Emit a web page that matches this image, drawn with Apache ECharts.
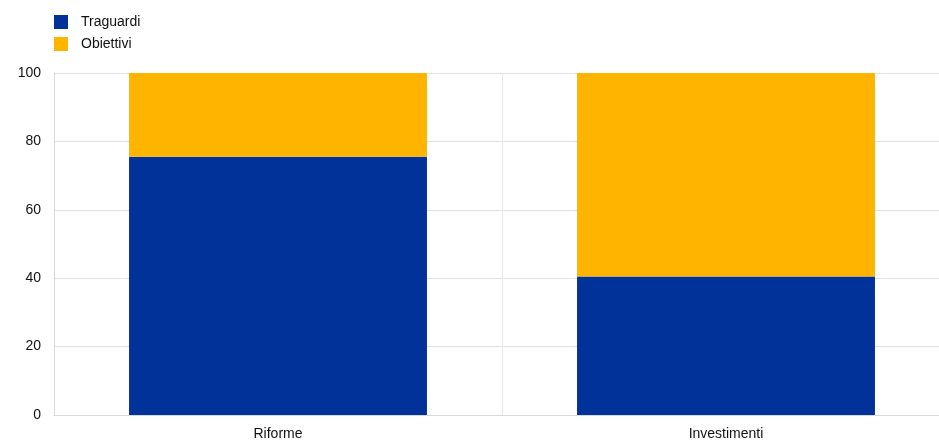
<!DOCTYPE html>
<html><head><meta charset="utf-8">
<script src="https://cdn.jsdelivr.net/npm/echarts@6/dist/echarts.min.js"></script>
<style>html,body{margin:0;padding:0;background:#fff}#c{width:939px;height:441px}</style>
</head><body><div id="c"></div>
<script>
var categories = ['Riforme', 'Investimenti'];
var traguardi = [75.5, 40.5];
var obiettivi = [24.5, 59.5];
var yTicks = [0, 20, 40, 60, 80, 100];

var chart = echarts.init(document.getElementById('c'), null, {renderer: 'canvas'});
var font = 'Liberation Sans, Arial, sans-serif';
chart.setOption({
  animation: false,
  textStyle: {fontFamily: font},
  legend: {
    orient: 'vertical', left: 49, top: 10, itemWidth: 14, itemHeight: 14, itemGap: 8,
    icon: 'rect',
    textStyle: {fontSize: 14, color: '#111', fontFamily: font, padding: [0, 0, 0, 8]},
    data: ['Traguardi', 'Obiettivi']
  },
  grid: {left: 54, width: 896, top: 73, height: 342, containLabel: false, outerBoundsMode: 'none'},
  xAxis: {
    type: 'category', data: categories,
    axisLine: {show: true, lineStyle: {color: '#d9d9d9', width: 1}},
    axisTick: {show: false},
    axisLabel: {fontSize: 14, color: '#111', margin: 12, fontFamily: font},
    splitLine: {show: true, lineStyle: {color: '#e6e6e6', width: 1}}
  },
  yAxis: {
    type: 'value', min: 0, max: 100, interval: 20,
    axisLine: {show: true, lineStyle: {color: '#d9d9d9'}},
    axisTick: {show: false},
    axisLabel: {fontSize: 14, color: '#111', margin: 13, fontFamily: font},
    splitLine: {show: true, lineStyle: {color: '#e0e0e0'}}
  },
  series: [
    {name: 'Traguardi', type: 'bar', stack: 's', data: traguardi, barWidth: '66.5%', itemStyle: {color: '#003299'}},
    {name: 'Obiettivi', type: 'bar', stack: 's', data: obiettivi, barWidth: '66.5%', itemStyle: {color: '#FFB400'}}
  ]
});
</script></body></html>
